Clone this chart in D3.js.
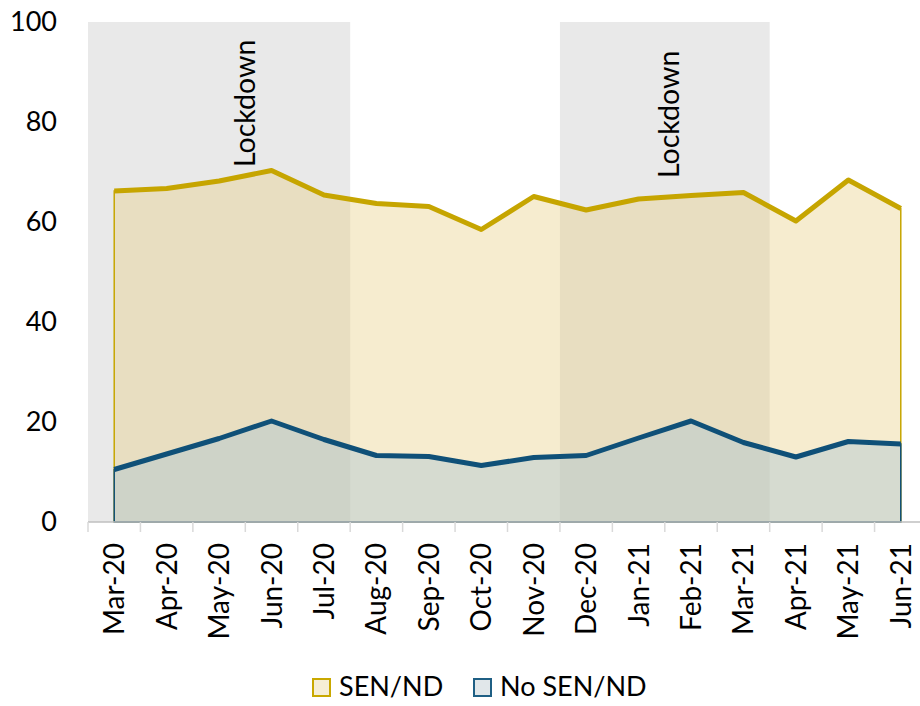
<!DOCTYPE html>
<html><head><meta charset="utf-8">
<script src="https://cdn.jsdelivr.net/npm/d3@7"></script>
<style>body{margin:0;background:#fff}svg{display:block;font-family:Lato,"Open Sans",sans-serif}</style>
</head><body><svg id="c" width="920" height="706"></svg>
<script>
const categories=["Mar-20","Apr-20","May-20","Jun-20","Jul-20","Aug-20","Sep-20","Oct-20","Nov-20","Dec-20","Jan-21","Feb-21","Mar-21","Apr-21","May-21","Jun-21"];
const senValues=[66.2,66.7,68.2,70.3,65.4,63.7,63.1,58.5,65.1,62.4,64.6,65.3,65.9,60.2,68.4,62.7];
const noSenValues=[10.5,13.6,16.7,20.2,16.5,13.3,13.1,11.3,12.9,13.3,16.8,20.2,15.9,13.0,16.1,15.6];
const yTicks=[0,20,40,60,80,100];
const lockdowns=[{from:"Mar-20",to:"Jul-20",label:"Lockdown"},{from:"Dec-20",to:"Mar-21",label:"Lockdown"}];
const seriesNames=["SEN/ND","No SEN/ND"];

const svg=d3.select("#c");
const x=d3.scaleBand().domain(categories).range([88,927]);
const y=d3.scaleLinear().domain([0,100]).range([522,22]);
const cx=c=>x(c)+x.bandwidth()/2;

// lockdown shading
svg.selectAll("rect.ld").data(lockdowns).enter().append("rect")
 .attr("x",d=>x(d.from)).attr("y",y(100))
 .attr("width",d=>x(d.to)+x.bandwidth()-x(d.from)).attr("height",y(0)-y(100))
 .attr("fill","#e9e9e9");

const series=[
 {name:seriesNames[0],values:senValues,line:"#c6a500",fill:"rgb(232,206,130)",op:0.38},
 {name:seriesNames[1],values:noSenValues,line:"#0f5078",fill:"rgb(170,195,210)",op:0.42}
];
const area=d3.area().x(d=>cx(d.c)).y0(y(0)).y1(d=>y(d.v));
const line=d3.line().x(d=>cx(d.c)).y(d=>y(d.v));
series.forEach(s=>{
 const pts=categories.map((c,i)=>({c,v:s.values[i]}));
 svg.append("path").attr("d",area(pts)).attr("fill",s.fill).attr("fill-opacity",s.op)
  .attr("stroke",s.line).attr("stroke-width",1.5);
});
// axis
const gx=svg.append("g").attr("transform","translate(0,522)");
gx.append("line").attr("x1",88).attr("x2",920).attr("y1",0).attr("y2",0).attr("stroke","#bfbfbf").attr("stroke-width",1.5);
gx.selectAll("line.t").data(categories).enter().append("line")
 .attr("x1",d=>x(d)).attr("x2",d=>x(d)).attr("y1",0).attr("y2",10).attr("stroke","#d9d9d9").attr("stroke-width",1.5);
gx.selectAll("text").data(categories).enter().append("text")
 .attr("transform",d=>`translate(${cx(d)+10},21) rotate(-90)`)
 .attr("text-anchor","end").attr("font-size",28).attr("fill","#000").text(d=>d);

series.forEach(s=>{
 const pts=categories.map((c,i)=>({c,v:s.values[i]}));
 svg.append("path").attr("d",line(pts)).attr("fill","none").attr("stroke",s.line)
  .attr("stroke-width",5).attr("stroke-linejoin","round");
});

// y labels
svg.append("g").selectAll("text").data(yTicks).enter().append("text")
 .attr("x",57).attr("y",d=>y(d)).attr("dy","0.35em").attr("text-anchor","end")
 .attr("font-size",27).text(d=>d);

// lockdown labels
const ldPos=[{dx:255,by:167},{dx:679,by:178}];
lockdowns.forEach((d,i)=>{
 svg.append("text").attr("transform",`translate(${ldPos[i].dx},${ldPos[i].by}) rotate(-90)`)
  .attr("font-size",28.5).attr("text-anchor","start").text(d.label);
});

// legend
const lg=[{x:312,tx:339},{x:473,tx:500}];
const legFill=["#f6eed6","#e1e7ea"],legStroke=["#c9a800","#1f5f84"];
seriesNames.forEach((n,i)=>{
 svg.append("rect").attr("x",lg[i].x+1).attr("y",679).attr("width",17).attr("height",17)
  .attr("fill",legFill[i]).attr("stroke",legStroke[i]).attr("stroke-width",2);
 svg.append("text").attr("x",lg[i].tx).attr("y",687).attr("dy","0.35em").attr("font-size",27).text(n);
});
</script></body></html>
